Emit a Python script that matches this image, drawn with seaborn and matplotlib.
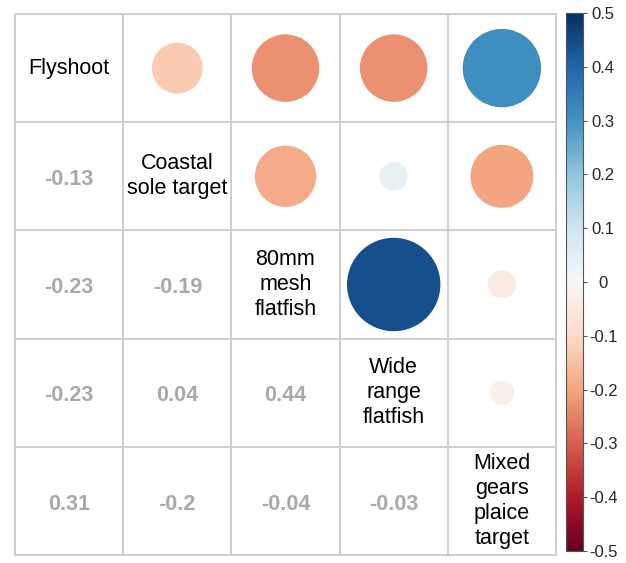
import numpy as np
import pandas as pd
import matplotlib
matplotlib.use("Agg")
import matplotlib.pyplot as plt
import seaborn as sns
from matplotlib.patches import Circle
from matplotlib.colors import Normalize, ListedColormap
from matplotlib.cm import ScalarMappable

sns.set_style("white")
plt.rcParams["font.family"] = ["Liberation Sans", "DejaVu Sans"]

# Fishing metier groups and their pairwise correlations
groups = ["Flyshoot", "Coastal\nsole target", "80mm\nmesh\nflatfish",
          "Wide\nrange\nflatfish", "Mixed\ngears\nplaice\ntarget"]
row2 = [-0.13]
row3 = [-0.23, -0.19]
row4 = [-0.23, 0.04, 0.44]
row5 = [0.31, -0.20, -0.04, -0.03]
cbar_ticks = [-0.5, -0.4, -0.3, -0.2, -0.1, 0, 0.1, 0.2, 0.3, 0.4, 0.5]

n = len(groups)
corr = np.eye(n)
for i, row in enumerate([row2, row3, row4, row5], start=1):
    for j, v in enumerate(row):
        corr[i, j] = v
        corr[j, i] = v
df = pd.DataFrame(corr, index=groups, columns=groups)

# Number labels in the lower triangle only
labels = np.full((n, n), "", dtype=object)
for i in range(n):
    for j in range(i):
        labels[i, j] = f"{corr[i, j]:g}"

fig = plt.figure(figsize=(6.26, 5.63), dpi=100)
ax = fig.add_axes([15 / 626, 8 / 563, 541 / 626, 541 / 563])

sns.heatmap(np.zeros((n, n)), ax=ax, cmap=ListedColormap(["white"]), cbar=False,
            annot=labels, fmt="", linewidths=1.3, linecolor="#cfcfcf",
            annot_kws={"color": "#a9a9a9", "fontsize": 15.5, "fontweight": "bold"},
            square=False, xticklabels=False, yticklabels=False)
for t in ax.texts:
    t.set_clip_on(False)
    x, y = t.get_position()
    t.set_position((x, y + 0.03))
for c in ax.collections:
    c.set_clip_on(False)

cmap = plt.get_cmap("RdBu")
norm = Normalize(vmin=-0.5, vmax=0.5)

# Circles in the upper triangle: area proportional to |r|
for i in range(n):
    for j in range(i + 1, n):
        v = df.iloc[i, j]
        r = 0.46 * np.sqrt(abs(v) / 0.5)
        ax.add_patch(Circle((j + 0.5, i + 0.5), r, facecolor=cmap(norm(v)),
                            edgecolor="none", zorder=3))

# Group names on the diagonal
for k, name in enumerate(groups):
    ax.text(k + 0.5, k + 0.5, name, ha="center", va="center", fontsize=15.5,
            color="black", linespacing=1.25, zorder=4)

ax.set_xlim(0, n)
ax.set_ylim(n, 0)
for s in ax.spines.values():
    s.set_visible(False)

# Colour scale with centred labels
cax = fig.add_axes([566 / 626, 12 / 563, 17 / 626, 538 / 563])
cb = fig.colorbar(ScalarMappable(norm=norm, cmap=cmap), cax=cax, ticks=cbar_ticks)
cb.ax.set_yticklabels([f"{t:g}" for t in cbar_ticks])
cb.ax.tick_params(length=3, width=0.8, color="#555555", labelsize=12, pad=11.5)
for lab in cb.ax.get_yticklabels():
    lab.set_horizontalalignment("center")
cb.outline.set_edgecolor("#555555")
cb.outline.set_linewidth(0.8)

fig.savefig("out.png", dpi=100)
